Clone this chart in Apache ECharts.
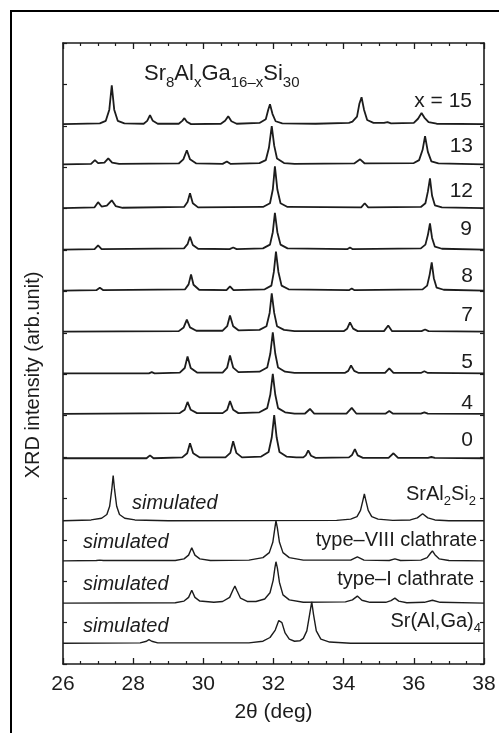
<!DOCTYPE html>
<html>
<head>
<meta charset="utf-8">
<script src="https://cdn.jsdelivr.net/npm/echarts@6/dist/echarts.min.js"></script>
<style>
  html, body { margin: 0; padding: 0; background: #fff; }
  #chart { width: 499px; height: 733px; }
</style>
</head>
<body>
<div id="chart"></div>
<script>
// XRD patterns of Sr8AlxGa16-xSi30 and simulated reference phases.
// Each pattern: [2θ (deg), intensity above its own baseline] in stacked-axis units.

const xTicks = [26, 28, 30, 32, 34, 36, 38];

const patternNames = ['x = 15', '13', '12', '9', '8', '7', '5', '4', '0',
  'SrAl2Si2', 'type–VIII clathrate', 'type–I clathrate', 'Sr(Al,Ga)4'];

// vertical offsets (baselines) of the stacked patterns
const offsets = [13.04, 12.07, 11.01, 10.01, 9.02, 8.03, 7.02, 6.04, 4.97, 3.46, 2.49, 1.47, 0.5];

const x15 = [[26,0],[27.05,0.02],[27.22,0.08],[27.32,0.35],[27.39,0.94],[27.46,0.35],[27.56,0.08],[27.75,0.02],
  [28.3,0.01],[28.4,0.08],[28.48,0.22],[28.56,0.08],[28.7,0.01],
  [29.3,0.01],[29.4,0.08],[29.46,0.145],[29.53,0.06],[29.65,0],
  [30.5,0.01],[30.62,0.08],[30.71,0.19],[30.8,0.07],[30.95,0.01],
  [31.6,0.03],[31.78,0.12],[31.85,0.35],[31.9,0.48],[31.97,0.25],[32.06,0.07],[32.25,0.02],[33.2,0.01],
  [34.15,0.03],[34.25,0.06],[34.38,0.18],[34.45,0.5],[34.51,0.65],[34.58,0.35],[34.67,0.1],[34.85,0.03],
  [35.15,0.03],[35.25,0.05],[35.35,0.02],
  [36.0,0.03],[36.12,0.13],[36.22,0.27],[36.3,0.16],[36.42,0.05],[36.65,0.01],[38,0]];

const x13 = [[26,0],[26.8,0.01],[26.91,0.1],[27.0,0.03],[27.18,0.04],[27.29,0.145],[27.4,0.04],[27.6,0.01],
  [29.3,0.02],[29.43,0.12],[29.53,0.34],[29.62,0.12],[29.8,0.02],
  [30.55,0.01],[30.67,0.07],[30.78,0.01],
  [31.6,0.03],[31.78,0.1],[31.87,0.4],[31.95,0.92],[32.02,0.45],[32.1,0.14],[32.3,0.03],[32.6,0.01],
  [34.3,0.02],[34.47,0.12],[34.6,0.02],
  [36.0,0.03],[36.15,0.1],[36.25,0.35],[36.32,0.68],[36.4,0.3],[36.5,0.07],[36.7,0.02],[38,0]];

const x12 = [[26,0],[26.9,0.02],[27.0,0.145],[27.1,0.04],[27.25,0.06],[27.39,0.19],[27.5,0.05],[27.7,0.01],
  [29.45,0.03],[29.55,0.15],[29.62,0.36],[29.7,0.12],[29.85,0.02],
  [31.7,0.03],[31.9,0.12],[31.98,0.45],[32.04,1.01],[32.11,0.45],[32.2,0.12],[32.4,0.03],
  [34.5,0.02],[34.6,0.12],[34.7,0.02],
  [36.2,0.03],[36.33,0.12],[36.4,0.4],[36.46,0.72],[36.52,0.3],[36.6,0.07],[36.8,0.02],[38,0]];

const x9 = [[26,0],[26.9,0.01],[27.0,0.1],[27.1,0.01],
  [29.45,0.03],[29.55,0.13],[29.62,0.31],[29.7,0.11],[29.85,0.02],
  [30.75,0.01],[30.85,0.05],[30.95,0.01],
  [31.7,0.03],[31.9,0.12],[31.98,0.42],[32.04,0.89],[32.11,0.42],[32.2,0.12],[32.4,0.03],
  [34.1,0.01],[34.18,0.05],[34.26,0.01],
  [36.2,0.03],[36.33,0.12],[36.4,0.35],[36.46,0.63],[36.52,0.28],[36.6,0.07],[36.8,0.02],[38,0]];

const x8 = [[26,0],[26.95,0.01],[27.05,0.07],[27.15,0.01],
  [29.48,0.03],[29.58,0.15],[29.65,0.39],[29.72,0.14],[29.88,0.02],
  [30.66,0.01],[30.76,0.1],[30.86,0.01],
  [31.75,0.03],[31.94,0.12],[32.01,0.45],[32.07,0.94],[32.14,0.45],[32.23,0.12],[32.43,0.03],
  [34.15,0.01],[34.23,0.05],[34.31,0.01],
  [36.25,0.03],[36.38,0.12],[36.45,0.38],[36.51,0.68],[36.57,0.3],[36.65,0.07],[36.85,0.02],[38,0]];

const x7 = [[26,0],[29.3,0.01],[29.44,0.1],[29.53,0.29],[29.62,0.1],[29.8,0.02],
  [30.55,0.02],[30.68,0.13],[30.76,0.39],[30.85,0.13],[31.0,0.03],
  [31.6,0.04],[31.8,0.13],[31.89,0.45],[31.95,0.92],[32.02,0.45],[32.1,0.13],[32.3,0.04],[32.6,0.01],
  [34.0,0.01],[34.1,0.07],[34.18,0.22],[34.27,0.07],[34.4,0.01],
  [35.15,0.01],[35.27,0.145],[35.38,0.01],
  [36.22,0.01],[36.32,0.05],[36.42,0.01],[38,0]];

const x5 = [[26,0],[28.45,0],[28.53,0.03],[28.61,0],
  [29.33,0.02],[29.47,0.13],[29.55,0.41],[29.64,0.13],[29.82,0.02],
  [30.55,0.02],[30.68,0.14],[30.76,0.43],[30.85,0.14],[31.0,0.03],
  [31.6,0.04],[31.82,0.14],[31.91,0.48],[31.98,0.99],[32.05,0.48],[32.13,0.14],[32.33,0.04],[32.6,0.01],
  [34.03,0.01],[34.13,0.06],[34.21,0.19],[34.3,0.06],[34.43,0.01],
  [35.18,0.01],[35.3,0.12],[35.42,0.01],
  [36.2,0.01],[36.3,0.05],[36.4,0.01],[38,0]];

const x4 = [[26,0],[29.33,0.02],[29.47,0.1],[29.55,0.29],[29.64,0.1],[29.82,0.02],
  [30.55,0.02],[30.68,0.1],[30.76,0.31],[30.85,0.1],[31.0,0.02],
  [31.6,0.04],[31.82,0.14],[31.91,0.47],[31.98,0.97],[32.05,0.47],[32.13,0.14],[32.33,0.04],[32.6,0.01],
  [32.9,0.01],[33.04,0.12],[33.16,0.01],
  [34.08,0.01],[34.23,0.145],[34.36,0.01],
  [35.2,0.01],[35.3,0.07],[35.4,0.01],
  [36.2,0.01],[36.3,0.04],[36.4,0.01],[38,0]];

const x0 = [[26,0],[28.38,0],[28.48,0.07],[28.58,0],
  [29.4,0.02],[29.54,0.12],[29.62,0.36],[29.71,0.12],[29.9,0.02],
  [30.63,0.02],[30.77,0.13],[30.85,0.41],[30.94,0.13],[31.1,0.02],
  [31.65,0.04],[31.86,0.15],[31.95,0.5],[32.02,1.04],[32.09,0.5],[32.17,0.15],[32.37,0.04],[32.65,0.02],
  [32.85,0.02],[32.92,0.07],[32.99,0.19],[33.07,0.06],[33.2,0.01],
  [34.15,0.02],[34.24,0.08],[34.32,0.22],[34.4,0.07],[34.55,0.01],
  [35.28,0.01],[35.42,0.12],[35.55,0.01],
  [36.4,0.01],[36.5,0.03],[36.6,0.01],[38,0]];

const simSrAl2Si2 = [[26,0],[26.8,0.02],[27.1,0.06],[27.25,0.15],[27.33,0.35],[27.39,0.75],[27.43,1.09],[27.47,0.75],
  [27.53,0.35],[27.61,0.15],[27.76,0.06],[28.05,0.02],[29,0],
  [33.8,0.01],[34.2,0.04],[34.38,0.1],[34.48,0.25],[34.55,0.5],[34.59,0.65],[34.63,0.5],[34.7,0.25],[34.8,0.1],[34.98,0.04],[35.4,0.01],
  [35.9,0.02],[36.1,0.07],[36.25,0.17],[36.4,0.07],[36.6,0.02],[37,0],[38,0]];

const simTypeVIII = [[26,0],[26.95,0.01],[27.05,0.02],[27.15,0.01],
  [29.2,0.01],[29.45,0.05],[29.58,0.14],[29.67,0.32],[29.76,0.14],[29.9,0.05],[30.2,0.01],
  [31.3,0.02],[31.7,0.08],[31.88,0.2],[31.98,0.45],[32.04,0.8],[32.07,0.97],[32.11,0.8],[32.17,0.45],[32.27,0.2],[32.45,0.08],[32.85,0.02],
  [34.2,0.02],[34.39,0.1],[34.58,0.02],
  [35.3,0.01],[35.46,0.05],[35.62,0.01],
  [36.2,0.02],[36.38,0.08],[36.48,0.19],[36.53,0.24],[36.6,0.15],[36.72,0.05],[37.0,0.01],[38,0]];

const simTypeI = [[26,0],[29.2,0.01],[29.45,0.05],[29.58,0.14],[29.67,0.31],[29.76,0.14],[29.9,0.05],[30.3,0.02],
  [30.55,0.04],[30.75,0.14],[30.85,0.33],[30.9,0.41],[30.96,0.3],[31.06,0.12],[31.25,0.04],
  [31.5,0.04],[31.75,0.1],[31.9,0.25],[31.99,0.55],[32.04,0.85],[32.07,1.0],[32.11,0.85],[32.17,0.5],[32.27,0.2],[32.45,0.08],[32.85,0.02],
  [34.05,0.03],[34.25,0.08],[34.39,0.17],[34.52,0.07],[34.75,0.02],
  [35.2,0.02],[35.35,0.06],[35.46,0.12],[35.57,0.05],[35.8,0.01],
  [36.3,0.02],[36.53,0.07],[36.75,0.02],[38,0]];

const simSrAlGa4 = [[26,0],[28.2,0.01],[28.38,0.05],[28.45,0.09],[28.53,0.05],[28.7,0.01],
  [31.3,0.01],[31.7,0.05],[31.9,0.14],[32.05,0.32],[32.15,0.55],[32.19,0.59],[32.24,0.5],[32.33,0.25],[32.45,0.1],[32.6,0.05],
  [32.75,0.06],[32.85,0.12],[32.95,0.3],[33.03,0.7],[33.09,1.0],[33.14,0.7],[33.22,0.3],[33.35,0.1],[33.6,0.03],[34.2,0],[38,0]];

const patterns = [x15, x13, x12, x9, x8, x7, x5, x4, x0, simSrAl2Si2, simTypeVIII, simTypeI, simSrAlGa4];
const simulatedCount = 4;

const FONT = '"Liberation Sans", Arial, Helvetica, sans-serif';
const INK = '#1c1c1c';

const chart = echarts.init(document.getElementById('chart'));

const series = patterns.map((pts, i) => ({
  name: patternNames[i],
  type: 'line',
  xAxisIndex: 0,
  yAxisIndex: 0,
  showSymbol: false,
  symbol: 'none',
  silent: true,
  lineStyle: { color: INK, width: i < patterns.length - simulatedCount ? 1.8 : 1.4 },
  data: pts.map(([t, v]) => [t, v + offsets[i]])
}));

const tickAxisCommon = {
  type: 'value',
  min: xTicks[0],
  max: xTicks[xTicks.length - 1],
  interval: 2,
  axisLine: { show: true, onZero: false, lineStyle: { color: INK, width: 1.6 } },
  axisTick: { show: true, inside: true, length: 6, lineStyle: { color: INK, width: 1.3 } },
  minorTick: { show: true, splitNumber: 4, length: 3, lineStyle: { color: INK, width: 1.2 } },
  splitLine: { show: false }
};

const yCommon = {
  type: 'value',
  min: 0,
  max: 15,
  interval: 1,
  axisLine: { show: true, onZero: false, lineStyle: { color: INK, width: 1.6 } },
  axisTick: { show: true, inside: true, length: 4, lineStyle: { color: INK, width: 1.2 } },
  axisLabel: { show: false },
  splitLine: { show: false }
};

// Right-hand sample labels: [text, right edge x, centre y]
const sampleLabels = [
  ['x = 15', 472, 101], ['13', 473, 146], ['12', 473, 191], ['9', 472, 229],
  ['8', 473, 276], ['7', 473, 315], ['5', 473, 362], ['4', 473, 403], ['0', 473, 440]
];

const phaseLabels = [
  ['{m|SrAl}{s|2}{m|Si}{s|2}', 476, 495],
  ['{m|type–VIII clathrate}', 477, 541],
  ['{m|type–I clathrate}', 474, 580],
  ['{m|Sr(Al,Ga)}{s|4}', 481, 622]
];

const simulatedLabels = [[132, 503], [83, 542], [83, 584], [83, 626]];

const richStyle = {
  m: { fontSize: 20, fontFamily: FONT, fill: INK, color: INK, lineHeight: 20, verticalAlign: 'top' },
  s: { fontSize: 13, fontFamily: FONT, fill: INK, color: INK, lineHeight: 13, verticalAlign: 'top', padding: [11, 0, 0, 0] }
};

const titleRich = {
  m: { fontSize: 22, fontFamily: FONT, fill: INK, color: INK, lineHeight: 22, verticalAlign: 'top' },
  s: { fontSize: 15, fontFamily: FONT, fill: INK, color: INK, lineHeight: 15, verticalAlign: 'top', padding: [12, 0, 0, 0] }
};

const graphics = [
  // figure frame: left and top edges
  { type: 'polyline', shape: { points: [[11, 740], [11, 11], [505, 11]] }, style: { fill: 'none', stroke: '#000', lineWidth: 2 }, silent: true },
  {
    type: 'text', left: 144, top: 63, silent: true,
    style: {
      text: '{m|Sr}{s|8}{m|Al}{s|x}{m|Ga}{s|16–x}{m|Si}{s|30}',
      rich: titleRich
    }
  },
  {
    type: 'text', x: 33, y: 375, rotation: Math.PI / 2, silent: true,
    style: { text: 'XRD intensity (arb.unit)', font: '20px ' + FONT, fill: INK, align: 'center', verticalAlign: 'middle' }
  }
];

sampleLabels.forEach(([t, x, y]) => graphics.push({
  type: 'text', x: x, y: y, silent: true,
  style: { text: t, font: '21px ' + FONT, fill: INK, align: 'right', verticalAlign: 'middle' }
}));

phaseLabels.forEach(([t, x, y]) => graphics.push({
  type: 'text', x: x, y: y - 11, silent: true,
  style: { text: t, rich: richStyle, align: 'right', verticalAlign: 'top' }
}));

simulatedLabels.forEach(([x, y]) => graphics.push({
  type: 'text', x: x, y: y, silent: true,
  style: { text: 'simulated', font: 'italic 20px ' + FONT, fill: INK, align: 'left', verticalAlign: 'middle' }
}));

chart.setOption({
  animation: false,
  backgroundColor: '#fff',
  grid: { left: 63, top: 43, right: 15, bottom: 69, containLabel: false },
  xAxis: [
    Object.assign({}, tickAxisCommon, {
      position: 'bottom',
      name: '2θ (deg)',
      nameLocation: 'middle',
      nameGap: 38,
      nameTextStyle: { fontSize: 21, fontFamily: FONT, color: INK },
      axisLabel: { show: true, fontSize: 21, fontFamily: FONT, color: INK, margin: 10 }
    }),
    Object.assign({}, tickAxisCommon, { position: 'top', axisLabel: { show: false } })
  ],
  yAxis: [
    Object.assign({}, yCommon, { position: 'left' }),
    Object.assign({}, yCommon, { position: 'right' })
  ],
  graphic: graphics,
  series: series
});
</script>
</body>
</html>
